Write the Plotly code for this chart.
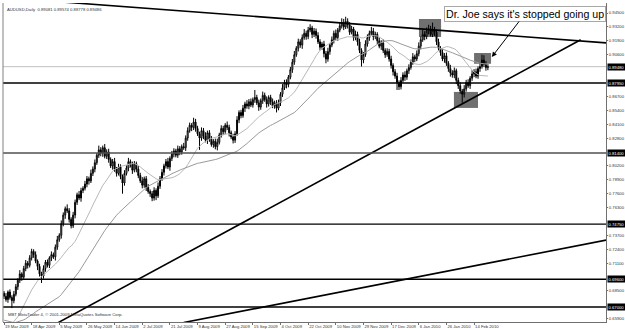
import plotly.graph_objects as go
import pandas as pd

# ---------------- data (prices in 1/10000 units) ----------------
closes = [
    6800, 6770, 6840, 6790, 6760, 6820,
    6890, 6950, 7010, 6980, 7060, 7110, 7090,
    7160, 7220, 7190, 7130, 7080,
    7010, 6990, 7060,
    7120, 7090, 7160, 7190, 7170,
    7260, 7330, 7370,
    7480, 7560, 7620, 7600,
    7520, 7460, 7560,
    7680, 7750, 7720, 7790, 7810,
    7850, 7900, 7880, 7950, 7990,
    8050, 8120, 8170, 8140, 8190, 8110, 8150,
    8080, 8020, 8060, 7990, 7950, 8010, 7920, 7860,
    7950, 8000, 8060, 8030, 7980, 8040, 7990,
    7930, 7880, 7840, 7900, 7820, 7780,
    7760, 7720, 7790, 7740, 7830,
    7900, 7960, 8020, 8060, 8010, 8090,
    8130, 8160, 8120, 8180, 8150, 8200, 8190,
    8280, 8350, 8400, 8380, 8430,
    8370, 8320, 8280, 8350, 8300, 8260, 8330,
    8270, 8220, 8250, 8200, 8240,
    8310, 8370, 8340, 8400, 8380, 8330,
    8290, 8260, 8320,
    8450, 8520, 8490, 8560, 8600, 8580,
    8620, 8590, 8640, 8660, 8610, 8570, 8630,
    8680, 8640, 8600, 8660, 8620, 8580, 8610,
    8560, 8610,
    8690, 8750, 8800, 8780, 8850,
    8920, 8990, 9060, 9120, 9180, 9150,
    9220, 9260, 9230, 9290, 9310, 9250, 9280, 9240,
    9180, 9130, 9160, 9070, 9020, 9090,
    9150, 9200, 9260, 9220, 9290, 9330,
    9360, 9320, 9370, 9340,
    9270, 9300, 9220, 9250, 9180,
    9100, 9010, 9060,
    9160, 9220, 9260, 9280, 9230, 9250,
    9190, 9140, 9170, 9100, 9060, 9090,
    9020, 8960, 8900, 8860, 8800, 8760,
    8820, 8870, 8850, 8910, 8940,
    8990, 9040, 9020, 9070,
    9140, 9200, 9250,
    9230, 9280, 9300, 9250, 9290, 9270,
    9180, 9120, 9080,
    9020, 9050, 8980, 8930, 8890,
    8870, 8910, 8820,
    8770, 8720, 8690, 8740,
    8800, 8770, 8840, 8880,
    8900, 8860, 8930, 8950,
    9010, 8970, 8940, 8948,
]
first_open = 6830

upper_wick = [
    20, 30, 15, 25, 20, 30, 25, 20, 35, 15,
    25, 30, 20, 25, 25, 20, 30, 15, 25, 20,
    30, 20, 25, 15, 30, 20, 25, 35, 20, 30,
    25, 20, 40, 25, 20, 30, 25, 20, 35, 25,
    20, 30, 25, 20, 35, 25, 30, 20, 40, 25,
    20, 35, 25, 30, 20, 25, 35, 20, 30, 25,
    20, 30, 25, 35, 20, 30, 25, 20, 30, 25,
    35, 20, 25, 30, 20, 25, 30, 20, 35, 25,
    30, 20, 25, 35, 20, 30, 25, 20, 30, 25,
    20, 35, 25, 30, 25, 20, 40, 30, 25, 20,
    30, 25, 35, 20, 25, 30, 20, 25, 35, 20,
    30, 25, 20, 35, 25, 20, 30, 25, 35, 20,
    25, 30, 20, 35, 25, 30, 20, 70, 25, 30,
    20, 35, 25, 30, 20, 25, 30, 20, 25, 30,
    20, 35, 25, 30, 20, 25, 30, 35, 20, 30,
    25, 30, 40, 25, 30, 35, 20, 30, 25, 30,
    25, 20, 30, 25, 35, 20, 30, 25, 35, 20,
    30, 40, 35, 45, 30, 25, 30, 20, 35, 25,
    30, 20, 25, 35, 30, 25, 40, 30, 25, 20,
    30, 25, 35, 20, 30, 25, 30, 20, 25, 30,
    20, 30, 25, 35, 20, 30, 25, 35, 20, 30,
    35, 30, 40, 30, 35, 40, 30, 70, 30, 25,
    30, 20, 35, 25, 30, 20, 35, 25, 30, 20,
    25, 30, 20, 35, 25, 30, 20, 35, 25, 30,
    20, 35, 50, 45, 30, 25,
]
lower_wick = [
    25, 20, 30, 20, 70, 25, 20, 30, 25, 35,
    20, 25, 30, 20, 25, 30, 20, 35, 25, 65,
    25, 30, 20, 25, 30, 20, 35, 25, 20, 30,
    25, 35, 20, 30, 25, 20, 30, 25, 20, 35,
    25, 20, 30, 35, 20, 25, 30, 20, 25, 30,
    35, 20, 25, 30, 20, 35, 25, 30, 20, 25,
    100, 25, 20, 30, 25, 35, 20, 30, 25, 20,
    30, 25, 35, 20, 30, 30, 25, 40, 20, 25,
    20, 30, 25, 20, 35, 25, 30, 20, 25, 30,
    25, 20, 30, 25, 20, 35, 25, 30, 20, 110,
    25, 30, 20, 35, 25, 20, 30, 25, 35, 20,
    25, 30, 20, 25, 35, 20, 30, 25, 20, 30,
    25, 20, 35, 25, 30, 20, 25, 30, 20, 35,
    25, 30, 20, 35, 25, 30, 20, 25, 40, 20,
    30, 25, 20, 35, 25, 20, 30, 25, 20, 30,
    25, 35, 20, 30, 25, 20, 35, 25, 30, 20,
    30, 25, 35, 40, 25, 30, 20, 35, 25, 30,
    20, 25, 30, 20, 35, 25, 20, 30, 25, 35,
    25, 60, 30, 20, 25, 30, 20, 35, 25, 30,
    20, 35, 25, 30, 20, 25, 30, 35, 25, 70,
    30, 25, 20, 35, 25, 30, 20, 25, 30, 20,
    25, 30, 20, 35, 25, 30, 20, 25, 35, 30,
    25, 30, 20, 35, 25, 30, 35, 25, 30, 35,
    30, 25, 80, 30, 25, 20, 30, 25, 30, 20,
    25, 30, 20, 25, 30, 25,
]
# closes before the visible window (Jan - 18 Mar 2009), used to warm up the moving averages
prehistory_closes = [
    7100, 7060, 7150, 7050, 6970, 6880, 6800, 6720, 6650, 6750,
    6700, 6610, 6560, 6620, 6520, 6450, 6400, 6500, 6460, 6380,
    6420, 6480, 6560, 6640, 6700, 6760, 6680, 6600, 6540, 6480,
    6420, 6500, 6450, 6380, 6360, 6420, 6470, 6420, 6390,
    6300, 6280, 6350, 6420, 6380, 6480, 6530, 6560, 6620, 6590, 6650,
]
ma_periods = [20, 50]

date_tick_bars = [0, 14, 28, 42, 56, 70, 84, 98, 112, 126, 140, 154, 168, 182, 196, 210, 224, 238]
date_labels = ["19 Mar 2009", "18 Apr 2009", "5 May 2009", "26 May 2009", "14 Jun 2009",
               "2 Jul 2009", "21 Jul 2009", "9 Aug 2009", "27 Aug 2009", "15 Sep 2009",
               "4 Oct 2009", "22 Oct 2009", "10 Nov 2009", "29 Nov 2009", "17 Dec 2009",
               "6 Jan 2010", "26 Jan 2010", "14 Feb 2010"]

# regular price-scale labels (those hidden under the highlighted level labels are left out)
price_ticks = [0.945, 0.932, 0.919, 0.906, 0.867, 0.854, 0.841, 0.828,
               0.802, 0.789, 0.776, 0.763, 0.737, 0.724, 0.711,
               0.685, 0.659]

hline_levels = [0.8795, 0.8140, 0.7475, 0.6960, 0.6700]
hline_colors = ["#000000", "#505050", "#000000", "#000000", "#000000"]
current_price = 0.8948

# trendlines: (bar, price) endpoints
trend_down = ([28, 305.3], [0.9555, 0.9170])
trend_up = ([27, 292], [0.6550, 0.9200])
trend_low = ([91, 306], [0.6555, 0.7330])

# highlighted rectangles: (bar0, bar1, price_low, price_high)
boxes = [(210.1, 221.3, 0.9226, 0.9394),
         (238.0, 246.6, 0.8975, 0.9076),
         (227.8, 240.0, 0.8562, 0.8712)]

arrow_tip = (247.0, 0.9039)
note_text = "Dr. Joe says it's stopped going up"
header_text = "AUDUSD,Daily  0.89081 0.89574 0.88778 0.89486"
footer_text = "MBT MetaTrader 4, \u00a9 2001-2009 MetaQuotes Software Corp."

# ---------------- build ----------------
scale = 1e-4
opens = [first_open] + closes[:-1]
highs = [max(o, c) + u for o, c, u in zip(opens, closes, upper_wick)]
lows = [min(o, c) - l for o, c, l in zip(opens, closes, lower_wick)]
bars = list(range(len(closes)))

O = [v * scale for v in opens]
H = [v * scale for v in highs]
L = [v * scale for v in lows]
C = [v * scale for v in closes]

all_closes = pd.Series([v * scale for v in prehistory_closes + closes])
npre = len(prehistory_closes)

TINY = 4.2
FONT = "Liberation Sans, Arial, sans-serif"

fig = go.Figure()

ma_colors = ["#b8b8b8", "#9a9a9a"]
for p, col in zip(ma_periods, ma_colors):
    ma = all_closes.rolling(p).mean().iloc[npre:].tolist()
    fig.add_trace(go.Scatter(x=bars, y=ma, mode="lines",
                             line=dict(color=col, width=1), hoverinfo="skip"))

for (xs, ys) in [trend_down, trend_up, trend_low]:
    fig.add_trace(go.Scatter(x=xs, y=ys, mode="lines",
                             line=dict(color="black", width=1.6), hoverinfo="skip"))

fig.add_trace(go.Candlestick(
    x=bars, open=O, high=H, low=L, close=C,
    increasing=dict(line=dict(color="black", width=1), fillcolor="white"),
    decreasing=dict(line=dict(color="black", width=1), fillcolor="black"),
    whiskerwidth=0,
))

shapes = []
shapes.append(dict(type="line", xref="paper", x0=0, x1=1, yref="y",
                   y0=current_price, y1=current_price,
                   line=dict(color="#c0c0c0", width=1), layer="below"))
for lvl, col in zip(hline_levels, hline_colors):
    shapes.append(dict(type="line", xref="paper", x0=0, x1=1, yref="y",
                       y0=lvl, y1=lvl, line=dict(color=col, width=1.4)))
for b0, b1, p0, p1 in boxes:
    shapes.append(dict(type="rect", xref="x", yref="y", x0=b0, x1=b1, y0=p0, y1=p1,
                       fillcolor="#707070", line=dict(width=0), layer="below"))
shapes.append(dict(type="line", xref="paper", yref="paper", x0=0, x1=0, y0=0, y1=1,
                   line=dict(color="#808080", width=1)))

annotations = []
for lvl in hline_levels + [current_price]:
    annotations.append(dict(xref="paper", x=1, xanchor="left", xshift=1,
                            yref="y", y=lvl, yanchor="middle",
                            text=f"{lvl:.5f}", showarrow=False,
                            font=dict(size=TINY, color="white", family=FONT),
                            bgcolor="black", borderpad=0.5))
annotations.append(dict(xref="x", yref="y", x=arrow_tip[0], y=arrow_tip[1],
                        ax=33, ay=-43, text=note_text, showarrow=True,
                        arrowhead=2, arrowsize=1, arrowwidth=1, arrowcolor="black",
                        standoff=0,
                        font=dict(size=10.6, color="black", family=FONT),
                        bgcolor="white", bordercolor="#a8a8a8", borderwidth=1, borderpad=1))
annotations.append(dict(xref="paper", yref="paper", x=0, y=1, xanchor="left", yanchor="top",
                        xshift=2, yshift=-2, text=header_text, showarrow=False,
                        font=dict(size=TINY, color="#333333", family=FONT)))
annotations.append(dict(xref="paper", yref="paper", x=0, y=0, xanchor="left", yanchor="bottom",
                        xshift=3, yshift=3, text=footer_text, showarrow=False,
                        font=dict(size=TINY, color="#333333", family=FONT)))

fig.update_layout(
    width=625, height=329,
    margin=dict(l=3, r=19, t=3, b=7, autoexpand=False),
    paper_bgcolor="white", plot_bgcolor="white",
    showlegend=False,
    shapes=shapes, annotations=annotations,
    xaxis=dict(range=[-0.506, 304.8], rangeslider=dict(visible=False),
               automargin=False,
               showgrid=False, zeroline=False, showline=True, linecolor="#707070",
               ticks="outside", ticklen=2, tickcolor="#707070",
               tickvals=date_tick_bars, ticktext=date_labels, tickangle=0,
               ticklabelposition="outside right", ticklabelstandoff=0,
               tickfont=dict(size=TINY, color="#333333", family=FONT)),
    yaxis=dict(range=[0.65600, 0.95435], side="right", automargin=False,
               showgrid=False, zeroline=False, showline=True, linecolor="#707070",
               ticks="outside", ticklen=1, tickcolor="#707070",
               tickvals=price_ticks, ticktext=[f"{v:.5f}" for v in price_ticks],
               ticklabelstandoff=0,
               tickfont=dict(size=TINY, color="#333333", family=FONT)),
)

fig.write_html("out.html")
